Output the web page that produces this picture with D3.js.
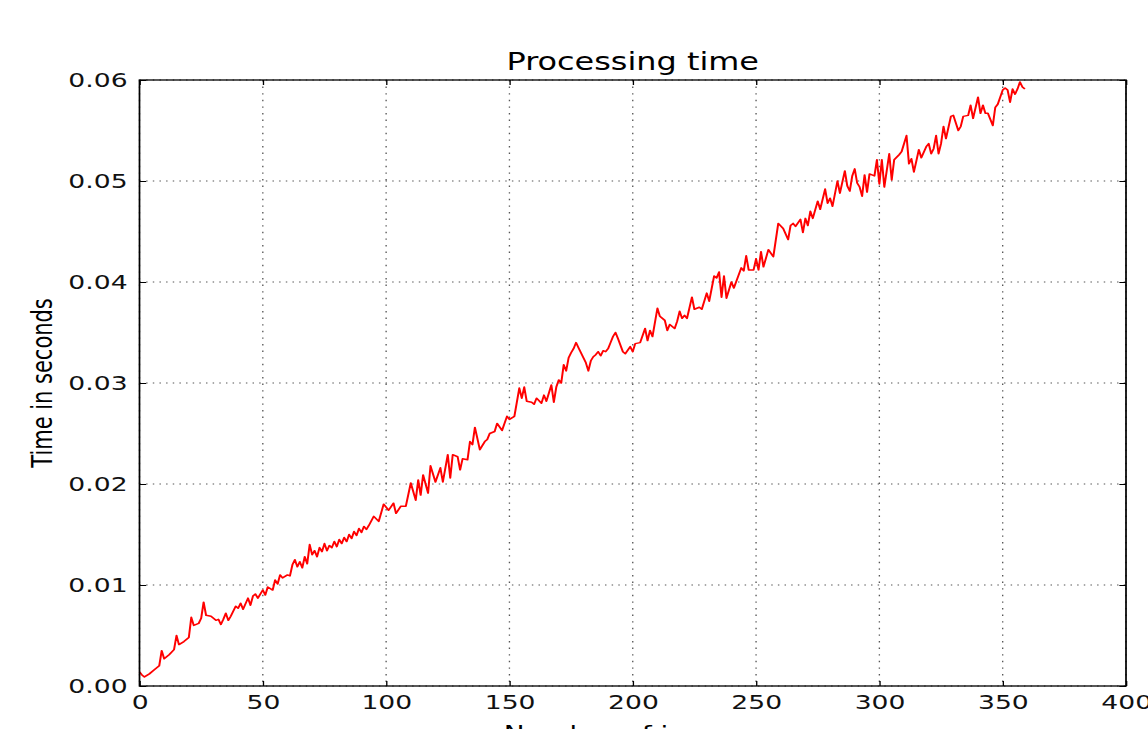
<!DOCTYPE html>
<html>
<head>
    <script type="text/javascript" src="https://cdn.jsdelivr.net/npm/d3@7"></script>
    <style>
        body { margin: 0; background: #fff; overflow: hidden; }
        text { font-family: "DejaVu Sans", sans-serif; fill: #000; }
    </style>
</head>

<body>
    <div id="viz"></div>
    <script type="text/javascript">

    // values (number of images -> seconds)
    var images = [0,1,2,4,6,8,9,10,12,14,15,16,18,20,21,22,24,25,26,27,29,31,32,33,34,35,36,37,39,40,
        41,42,44,45,46,47,48,50,51,52,54,55,56,57,58,60,61,62,63,64,65,66,67,68,69,70,71,72,73,74,
        75,76,77,78,79,80,81,82,83,84,85,86,87,88,89,90,91,92,93,95,97,99,101,103,104,106,108,110,112,113,
        114,115,117,118,120,122,123,125,126,127,129,130,131,133,134,135,136,138,140,141,142,144,145,147,149,150,152,154,155,156,
        157,159,160,161,163,164,165,167,168,169,170,171,172,173,174,175,176,177,178,179,180,181,182,183,184,185,186,187,188,189,
        190,191,192,193,194,196,197,199,200,201,203,205,206,207,208,210,211,213,214,215,217,218,219,220,221,222,224,225,227,228,
        230,231,233,234,235,236,237,238,240,241,244,245,246,247,249,250,251,252,253,255,257,259,261,263,264,265,266,268,269,270,
        271,272,273,275,276,278,279,280,281,283,284,286,287,288,289,290,291,292,293,294,295,296,298,299,300,301,302,304,305,306,
        308,309,311,312,313,314,315,316,317,319,320,321,322,323,324,325,326,327,329,330,332,333,334,336,337,338,340,341,342,343,
        344,346,347,348,350,351,352,353,354,355,356,357,358,359];

    var seconds = [0.0014,0.0011,0.0009,0.0012,0.0016,0.0020,0.0035,0.0027,0.0031,0.0036,0.0050,0.0041,0.0044,0.0048,0.0068,0.0060,0.0062,0.0067,0.0083,0.0070,0.0069,0.0065,0.0066,0.0061,0.0066,0.0072,0.0065,0.0069,0.0079,0.0077,
        0.0082,0.0076,0.0087,0.0080,0.0089,0.0091,0.0087,0.0095,0.0090,0.0098,0.0095,0.0105,0.0101,0.0110,0.0107,0.0110,0.0109,0.0120,0.0125,0.0118,0.0123,0.0117,0.0128,0.0121,0.0140,0.0130,0.0134,0.0128,0.0137,0.0133,
        0.0141,0.0134,0.0139,0.0137,0.0143,0.0138,0.0145,0.0141,0.0147,0.0143,0.0150,0.0146,0.0153,0.0149,0.0156,0.0152,0.0158,0.0155,0.0159,0.0168,0.0163,0.0180,0.0174,0.0181,0.0171,0.0178,0.0178,0.0201,0.0184,0.0204,
        0.0189,0.0209,0.0191,0.0218,0.0202,0.0216,0.0202,0.0229,0.0206,0.0229,0.0227,0.0214,0.0225,0.0224,0.0242,0.0239,0.0256,0.0234,0.0242,0.0244,0.0250,0.0252,0.0260,0.0253,0.0267,0.0264,0.0267,0.0295,0.0285,0.0296,
        0.0282,0.0281,0.0279,0.0285,0.0280,0.0288,0.0282,0.0298,0.0281,0.0296,0.0303,0.0300,0.0318,0.0312,0.0325,0.0330,0.0334,0.0340,0.0335,0.0330,0.0325,0.0320,0.0312,0.0322,0.0326,0.0328,0.0331,0.0327,0.0332,0.0331,
        0.0334,0.0340,0.0346,0.0350,0.0344,0.0331,0.0329,0.0336,0.0331,0.0339,0.0340,0.0354,0.0342,0.0352,0.0346,0.0374,0.0366,0.0362,0.0352,0.0358,0.0354,0.0361,0.0371,0.0364,0.0367,0.0364,0.0385,0.0373,0.0375,0.0373,
        0.0389,0.0381,0.0406,0.0404,0.0410,0.0385,0.0406,0.0384,0.0400,0.0394,0.0414,0.0411,0.0426,0.0412,0.0412,0.0423,0.0412,0.0430,0.0415,0.0432,0.0425,0.0458,0.0453,0.0442,0.0456,0.0458,0.0455,0.0462,0.0449,0.0463,
        0.0456,0.0470,0.0463,0.0480,0.0472,0.0492,0.0478,0.0483,0.0475,0.0500,0.0488,0.0510,0.0495,0.0490,0.0505,0.0512,0.0498,0.0494,0.0485,0.0506,0.0489,0.0507,0.0505,0.0521,0.0497,0.0521,0.0494,0.0527,0.0501,0.0521,
        0.0526,0.0529,0.0545,0.0517,0.0522,0.0509,0.0520,0.0531,0.0523,0.0534,0.0537,0.0527,0.0532,0.0545,0.0527,0.0537,0.0554,0.0542,0.0564,0.0565,0.0550,0.0554,0.0564,0.0565,0.0575,0.0562,0.0583,0.0567,0.0575,0.0567,
        0.0567,0.0555,0.0573,0.0576,0.0590,0.0592,0.0590,0.0578,0.0591,0.0586,0.0591,0.0598,0.0593,0.0591];

    var xTicks = [0, 50, 100, 150, 200, 250, 300, 350, 400];
    var yTicks = [0, 0.01, 0.02, 0.03, 0.04, 0.05, 0.06];

    // the reference picture is stretched sideways, so draw narrow and let the viewBox widen it
    var stretch = 1.33,
        W = 1148 / stretch,
        H = 729;

    var mLeft = 139.5 / stretch,
        mRight = 1126 / stretch,
        mTop = 80,
        mBottom = 686;

    var svg = d3.select("#viz")
        .append("svg")
        .attr("width", 1148)
        .attr("height", 729)
        .attr("viewBox", "0 0 " + W + " " + H)
        .attr("preserveAspectRatio", "none");

    var x = d3.scaleLinear().domain([0, 400]).range([mLeft, mRight]);
    var y = d3.scaleLinear().domain([0, 0.06]).range([mBottom, mTop]);

    // dotted grid
    svg.append("g")
        .selectAll("line")
        .data(xTicks)
        .enter().append("line")
        .attr("x1", function(d){return x(d)})
        .attr("x2", function(d){return x(d)})
        .attr("y1", mTop)
        .attr("y2", mBottom)
        .style("stroke", "#555")
        .style("stroke-width", 1)
        .style("stroke-dasharray", "1.4,5.2");

    svg.append("g")
        .selectAll("line")
        .data(yTicks)
        .enter().append("line")
        .attr("x1", mLeft)
        .attr("x2", mRight)
        .attr("y1", function(d){return y(d)})
        .attr("y2", function(d){return y(d)})
        .style("stroke", "#555")
        .style("stroke-width", 1)
        .style("stroke-dasharray", "1.1,3.9");

    // the data line
    var line = d3.line()
        .x(function(d){return x(d[0])})
        .y(function(d){return y(d[1])});

    svg.append("path")
        .datum(d3.zip(images, seconds))
        .attr("d", line)
        .style("fill", "none")
        .style("stroke", "#ff0000")
        .style("stroke-width", 1.5)
        .style("stroke-linejoin", "round");

    // axes with inward ticks on all four sides
    var xAxis = d3.axisBottom(x).tickValues(xTicks).tickSize(-5).tickPadding(8)
        .tickFormat(d3.format("d"));
    var yAxis = d3.axisLeft(y).tickValues(yTicks).tickSize(-5).tickPadding(9)
        .tickFormat(d3.format(".2f"));

    var gx = svg.append("g").attr("transform", "translate(0," + mBottom + ")").call(xAxis);
    var gy = svg.append("g").attr("transform", "translate(" + mLeft + ",0)").call(yAxis);
    svg.append("g").attr("transform", "translate(0," + mTop + ")")
        .call(d3.axisTop(x).tickValues(xTicks).tickSize(-5).tickFormat(""));
    svg.append("g").attr("transform", "translate(" + mRight + ",0)")
        .call(d3.axisRight(y).tickValues(yTicks).tickSize(-5).tickFormat(""));

    svg.selectAll(".domain").remove();
    svg.selectAll(".tick line").style("stroke", "#000").style("stroke-width", 1);
    svg.selectAll(".tick text")
        .style("font-family", "DejaVu Sans")
        .style("font-size", "20px")
        .style("fill", "#111");
    gx.selectAll(".tick text").attr("dy", "0.75em");

    // frame
    svg.append("rect")
        .attr("x", mLeft)
        .attr("y", mTop)
        .attr("width", mRight - mLeft)
        .attr("height", mBottom - mTop)
        .style("fill", "none")
        .style("stroke", "#000")
        .style("stroke-width", 1.3);

    // title and axis labels
    svg.append("text")
        .attr("x", (mLeft + mRight) / 2)
        .attr("y", 70)
        .attr("text-anchor", "middle")
        .style("font-size", "24px")
        .text("Processing time");

    svg.append("text")
        .attr("transform", "translate(" + (52 / stretch) + "," + ((mTop + mBottom) / 2) + ") rotate(-90)")
        .attr("text-anchor", "middle")
        .style("font-size", "21px")
        .text("Time in seconds");

    svg.append("text")
        .attr("x", (mLeft + mRight) / 2)
        .attr("y", 741)
        .attr("text-anchor", "middle")
        .style("font-size", "21px")
        .text("Number of images");

    </script>
</body>
</html>
